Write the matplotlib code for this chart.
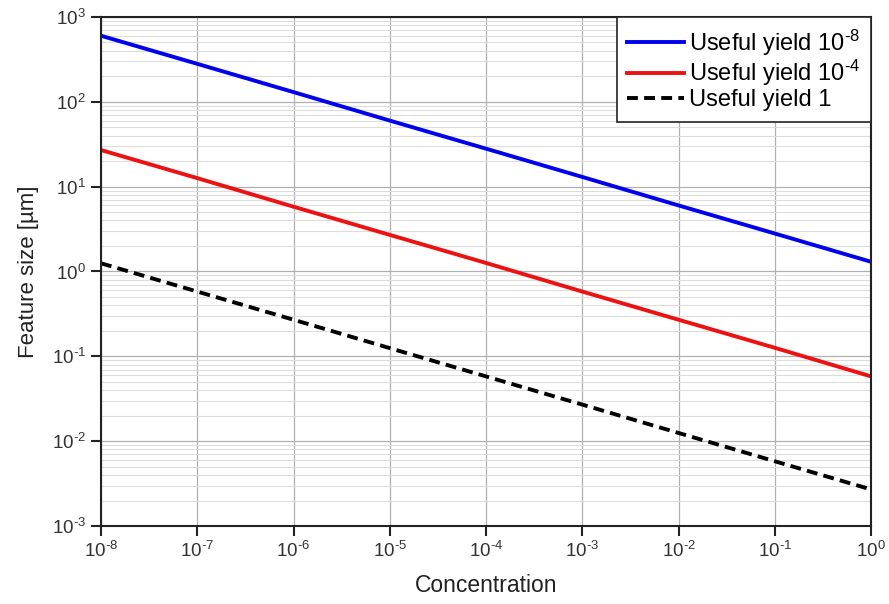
import matplotlib
matplotlib.use("Agg")
import matplotlib.pyplot as plt
from matplotlib.ticker import LogLocator, NullFormatter, FuncFormatter
import numpy as np

plt.rcParams['font.family'] = ['Liberation Sans', 'DejaVu Sans']
plt.rcParams['mathtext.fontset'] = 'custom'
plt.rcParams['mathtext.rm'] = 'Liberation Sans'
plt.rcParams['mathtext.default'] = 'regular'

# concentration at each decade, feature size
concentration = [1e-8, 1e-7, 1e-6, 1e-5, 1e-4, 1e-3, 1e-2, 1e-1, 1e0]
size_yield_1e8 = [600, 280, 130, 60, 28, 13, 6.0, 2.8, 1.3]
size_yield_1e4 = [27, 12.6, 5.8, 2.7, 1.26, 0.58, 0.27, 0.126, 0.058]
size_yield_1 = [1.25, 0.58, 0.27, 0.125, 0.058, 0.027, 0.0125, 0.0058, 0.0027]


def pow_label(v, pos):
    e = int(round(np.log10(v)))
    return '10$^{\\text{%d}}$' % e


fig = plt.figure(figsize=(8.89, 6.04), dpi=100)
ax = fig.add_axes([0.1136, 0.129, 0.8664, 0.843])

ax.plot(concentration, size_yield_1e8, color='#0000ee', lw=2.8, label='Useful yield 10$^{\\text{-8}}$')
ax.plot(concentration, size_yield_1e4, color='#ee1111', lw=2.8, label='Useful yield 10$^{\\text{-4}}$')
ax.plot(concentration, size_yield_1, color='black', lw=2.8, ls=(0, (2.8, 1.6)), label='Useful yield 1')

ax.set_xscale('log')
ax.set_yscale('log')
ax.set_xlim(1e-8, 1)
ax.set_ylim(1e-3, 1e3)

ax.xaxis.set_major_locator(LogLocator(base=10, numticks=20))
ax.yaxis.set_major_locator(LogLocator(base=10, numticks=20))
ax.xaxis.set_major_formatter(FuncFormatter(pow_label))
ax.yaxis.set_major_formatter(FuncFormatter(pow_label))
ax.yaxis.set_minor_locator(LogLocator(base=10, subs=range(2, 10), numticks=20))
ax.yaxis.set_minor_formatter(NullFormatter())
ax.xaxis.set_minor_locator(LogLocator(base=10, subs=[], numticks=20))

ax.grid(True, which='major', color='#b0b0b0', lw=0.9)
ax.grid(True, which='minor', axis='y', color='#dddddd', lw=0.8)
ax.set_axisbelow(True)

ax.tick_params(which='major', direction='out', length=7, width=1.5, labelsize=13.5, pad=4,
               top=False, right=False, colors='#222222', labelcolor='#333333')
ax.tick_params(which='minor', length=0)
for s in ax.spines.values():
    s.set_linewidth(1.5)
    s.set_color('#222222')

ax.set_xlabel('Concentration', fontsize=16.5, labelpad=9, color='#222222')
ax.set_ylabel('Feature size [µm]', fontsize=16, labelpad=9, color='#222222')

leg = ax.legend(loc='upper right', fontsize=17, fancybox=False, framealpha=1,
                edgecolor='#222222', borderaxespad=0, handlelength=2.4,
                handletextpad=0.22, labelspacing=0.02, borderpad=0.45)
leg.get_frame().set_linewidth(1.2)

fig.savefig('out.png', dpi=100)
